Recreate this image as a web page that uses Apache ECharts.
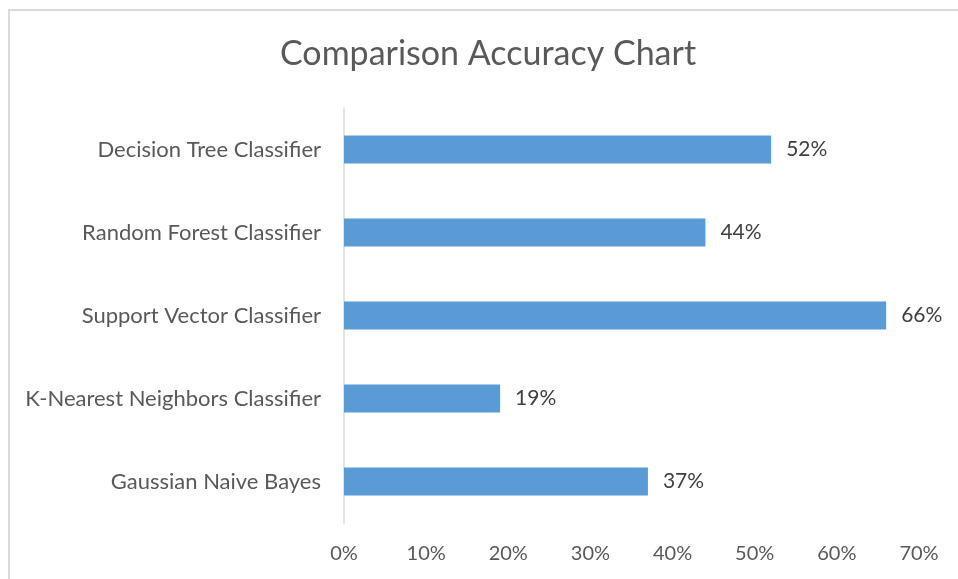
<!DOCTYPE html>
<html><head><meta charset="utf-8">
<script src="https://cdn.jsdelivr.net/npm/echarts@6/dist/echarts.min.js"></script>
<style>html,body{margin:0;padding:0;background:#fff;}#c{width:958px;height:579px;}</style>
</head><body><div id="c"></div>
<script>
const categories = ["Decision Tree Classifier","Random Forest Classifier","Support Vector Classifier","K-Nearest Neighbors Classifier","Gaussian Naive Bayes"];
const accuracy = [52,44,66,19,37];
const tickMax = 70, tickStep = 10;
const chart = echarts.init(document.getElementById('c'));
const font = 'Lato';
chart.setOption({
  animation:false,
  backgroundColor:'#fff',
  title:{text:'Comparison Accuracy Chart',left:275,top:32,textStyle:{fontFamily:font,fontSize:34,fontWeight:'normal',color:'#595959'}},
  graphic:[{type:'rect',shape:{x:9,y:10,width:1000,height:1000},style:{fill:null,stroke:'#D9D9D9',lineWidth:2},silent:true}],
  grid:{left:344,right:39,top:108,bottom:56,containLabel:false},
  xAxis:{type:'value',min:0,max:tickMax,interval:tickStep,
    axisLabel:{formatter:'{value}%',fontFamily:font,fontSize:20,color:'#595959',margin:21},
    axisLine:{show:false},axisTick:{show:false},splitLine:{show:false}},
  yAxis:{type:'category',inverse:true,data:categories,
    axisLabel:{fontFamily:font,fontSize:22,color:'#595959',margin:23},
    axisLine:{show:true,lineStyle:{color:'#D9D9D9',width:1.5}},axisTick:{show:false}},
  series:[{type:'bar',data:accuracy,barWidth:'34%',
    itemStyle:{color:'#5B9BD5'},
    label:{show:true,position:'right',distance:15,formatter:'{c}%',fontFamily:font,fontSize:21,color:'#404040'}}]
});
</script></body></html>
